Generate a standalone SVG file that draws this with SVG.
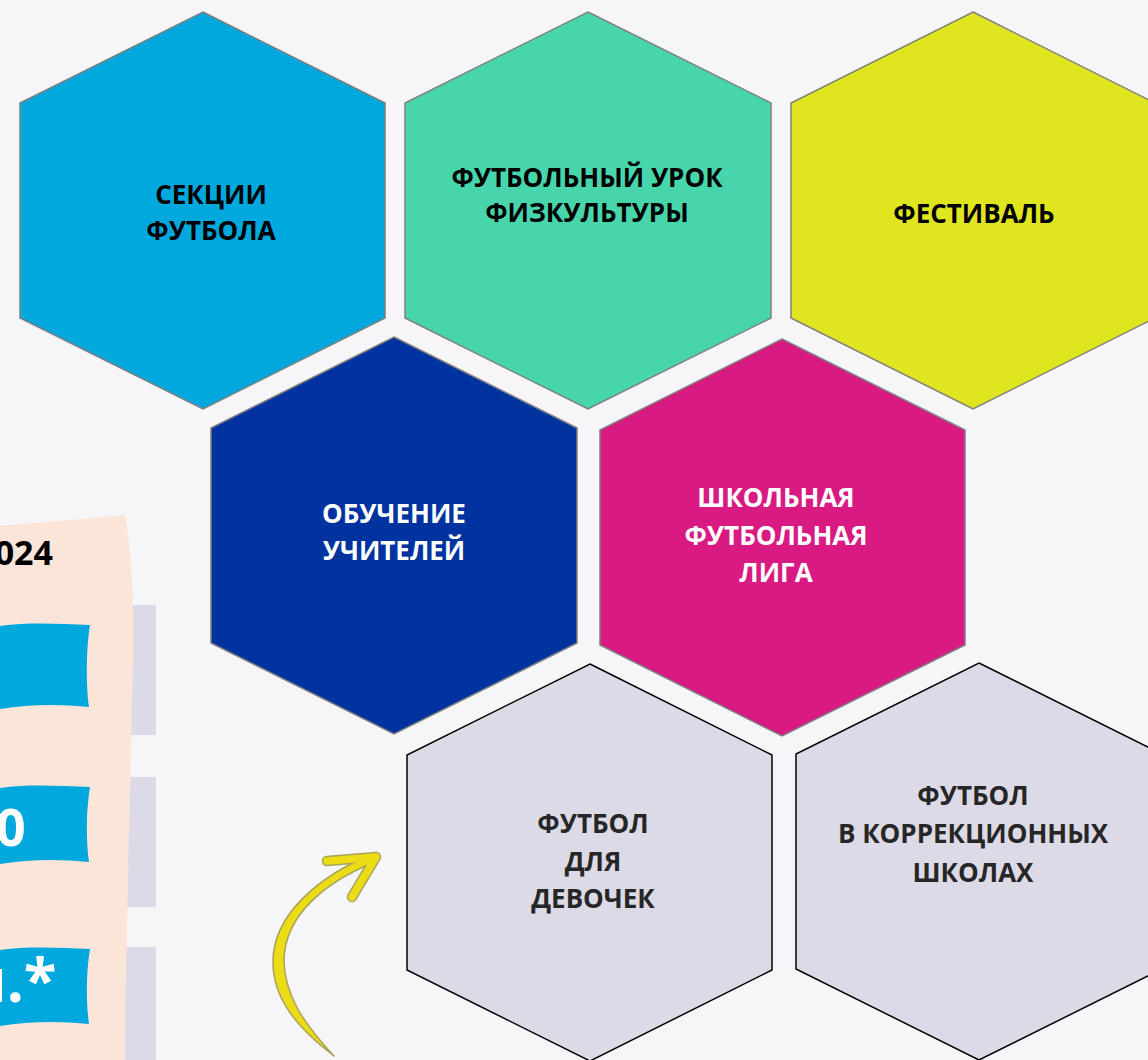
<svg xmlns="http://www.w3.org/2000/svg" width="1148" height="1060" viewBox="0 0 1148 1060">
<style>
.t{font-family:"Open Sans","Liberation Sans",sans-serif;font-weight:700;font-size:26px;text-anchor:middle}
.hx{stroke:#7f7f7f;stroke-width:1.5}
.hg{fill:#dcdae6;stroke:#000;stroke-width:1.5}
.ban{fill:#00a8de}
.gr{fill:#dcdae6}
.big{font-family:"Open Sans","Liberation Sans",sans-serif;font-weight:700;fill:#fff}
.arr{fill:none;stroke-linecap:round;stroke-linejoin:round}
</style>
<rect width="1148" height="1060" fill="#f6f6f8"/>
<g id="panel">
<rect class="gr" x="118" y="605" width="38" height="130"/>
<rect class="gr" x="118" y="777" width="38" height="130"/>
<rect class="gr" x="118" y="947" width="38" height="113"/>
<path d="M0,526 C40,522 85,519 125,515 C133,560 135,620 132,700 C130,800 127,900 125,1060 L0,1060 Z" fill="#fbe5d9"/>
<text x="53" y="565" font-family="Open Sans, Liberation Sans, sans-serif" font-weight="700" font-size="34" text-anchor="end" fill="#000">024</text>
<path class="ban" d="M0,626 C30,622 60,624 90,625 C86,650 86,685 89,707 C60,704 30,704 0,709 Z"/>
<path class="ban" d="M0,788 C30,784 60,786 90,787 C86,811 86,841 89,862 C60,859 30,859 0,864 Z"/>
<path class="ban" d="M0,950 C30,946 60,948 90,949 C86,973 86,1003 89,1024 C60,1021 30,1021 0,1026 Z"/>
<text class="big" x="-4" y="846" font-size="52">0</text>
<text class="big" x="-32" y="1002" font-size="60">л.*</text>
</g>
<g id="hex-sekcii">
<polygon class="hx" fill="#00a8de" points="203,12 385,103 385,318 203,409 20,318 20,103"/>
<text class="t" fill="#000" x="211" y="204">СЕКЦИИ<tspan x="211" dy="36">ФУТБОЛА</tspan></text>
</g>
<g id="hex-urok">
<polygon class="hx" fill="#47d6ac" points="588,12 771,103 771,318 588,409 405,318 405,103"/>
<text class="t" fill="#000" x="587" y="187">ФУТБОЛЬНЫЙ УРОК<tspan x="587" dy="35">ФИЗКУЛЬТУРЫ</tspan></text>
</g>
<g id="hex-festival">
<polygon class="hx" fill="#dfe51e" points="973,12 1155,103 1155,318 973,409 791,318 791,103"/>
<text class="t" fill="#000" x="974" y="223">ФЕСТИВАЛЬ</text>
</g>
<g id="hex-obuchenie">
<polygon class="hx" fill="#0033a0" points="394,337 577,428 577,643 394,734 211,643 211,428"/>
<text class="t" fill="#fff" x="394" y="523">ОБУЧЕНИЕ<tspan x="394" dy="37">УЧИТЕЛЕЙ</tspan></text>
</g>
<g id="hex-liga">
<polygon class="hx" fill="#d91a82" points="782,339 965,430 965,645 782,736 600,645 600,430"/>
<text class="t" fill="#fff" x="776" y="507">ШКОЛЬНАЯ<tspan x="776" dy="38">ФУТБОЛЬНАЯ</tspan><tspan x="776" dy="37">ЛИГА</tspan></text>
</g>
<g id="hex-devochki">
<polygon class="hg" points="590,664 772,755 772,970 590,1061 407,970 407,755"/>
<text class="t" fill="#262626" x="593" y="833">ФУТБОЛ<tspan x="593" dy="38">ДЛЯ</tspan><tspan x="593" dy="37">ДЕВОЧЕК</tspan></text>
</g>
<g id="hex-korr">
<polygon class="hg" points="979,663 1162,754 1162,969 979,1060 796,969 796,754"/>
<text class="t" fill="#262626" x="973" y="805">ФУТБОЛ<tspan x="973" dy="38">В КОРРЕКЦИОННЫХ</tspan><tspan x="973" dy="39">ШКОЛАХ</tspan></text>
</g>
<g id="connectors">
<path class="arr" stroke="#a9a35a" stroke-width="10.5" d="M376,857 L327,861 M376,857 L352,897"/>
<path d="M334,1056 C300,1030 272,1000 273,960 C274,915 318,876 373,854 L375,862 C325,882 285,915 284,960 C284,995 305,1025 334,1056 Z" fill="#ebdc16" stroke="#a9a35a" stroke-width="1.5" stroke-linejoin="round"/>
<path class="arr" stroke="#ebdc16" stroke-width="7.5" d="M376,857 L327,861 M376,857 L352,897"/>
</g>
</svg>
